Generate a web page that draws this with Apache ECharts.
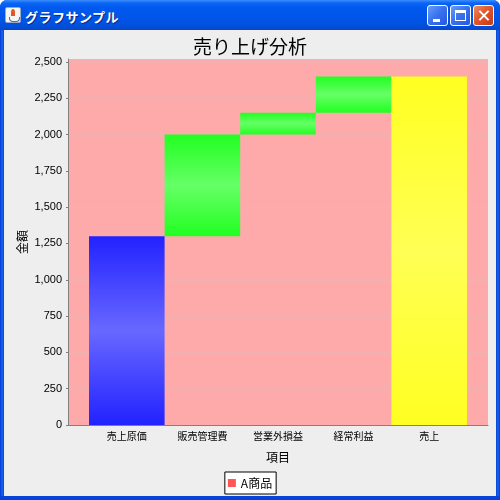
<!DOCTYPE html>
<html>
<head>
<meta charset="utf-8">
<script src="https://cdn.jsdelivr.net/npm/echarts@6/dist/echarts.min.js"></script>
<style>
  html, body { margin: 0; padding: 0; width: 500px; height: 500px; overflow: hidden; }
  #win { position: absolute; left: 0; top: 0; width: 500px; height: 500px;
    background: linear-gradient(to right, #0831d9 0, #166aee 2px, #0842d6 4px, #0842d6 496px, #166aee 498px, #0831d9 500px);
    border-radius: 7px 7px 0 0; }
  #titlebar { position: absolute; left: 0; top: 0; width: 500px; height: 30px; border-radius: 7px 7px 0 0;
    background: linear-gradient(to bottom, #3d8dfd 0, #0a66f5 3px, #0058ee 8px, #0055e8 18px, #0050dc 26px, #0a46c8 30px); }
  #client { position: absolute; left: 4px; top: 30px; width: 492px; height: 466px; background: #eeeeee; }
  #bottom { position: absolute; left: 0; top: 496px; width: 500px; height: 4px; background: #0842d6; }
  .icon { position: absolute; left: 5px; top: 7px; width: 16px; height: 16px; background: #f4f4f0;
    border: 1px solid #9aa8c8; box-sizing: border-box; border-radius: 2px; }
  .icon:before { content: ''; position: absolute; left: 5px; top: 1px; width: 4px; height: 7px; background: #e2542a; border-radius: 50% 50% 0 0; }
  .icon:after { content: ''; position: absolute; left: 3px; top: 9px; width: 9px; height: 4px; border: 1px solid #5a6a98; border-top: none; border-radius: 0 0 4px 4px; }
  .ttl { position: absolute; left: 25px; top: 7px; color: #fff; font: bold 13px "Noto Sans CJK JP", sans-serif;
    text-shadow: 1px 1px 0 #0a2a8a; letter-spacing: 0.5px; }
  .btn { position: absolute; top: 5px; width: 21px; height: 21px; box-sizing: border-box; border: 1px solid #fff; border-radius: 3px;
    background: linear-gradient(135deg, #6d9cf6 0%, #3b74ee 45%, #2458e0 100%); }
  .btn.min { left: 427px; }
  .btn.max { left: 450px; }
  .btn.close { left: 473px; background: linear-gradient(135deg, #f08a62 0%, #e0582c 45%, #c43a14 100%); }
  .btn.min:after { content: ''; position: absolute; left: 5px; top: 13px; width: 7px; height: 3px; background: #fff; }
  .btn.max:after { content: ''; position: absolute; left: 4px; top: 4px; width: 11px; height: 11px; box-sizing: border-box;
    border: 1px solid #fff; border-top-width: 3px; }
  .btn.close:before, .btn.close:after { content: ''; position: absolute; left: 9px; top: 3px; width: 2px; height: 13px; background: #fff; }
  .btn.close:before { transform: rotate(45deg); }
  .btn.close:after { transform: rotate(-45deg); }
  #chart { position: absolute; left: 0; top: 0; width: 500px; height: 500px; }
</style>
</head>
<body>
<div id="win">
  <div id="titlebar">
    <span class="icon"></span><span class="ttl">グラフサンプル</span>
    <div class="btn min"></div><div class="btn max"></div><div class="btn close"></div>
  </div>
  <div id="client"></div>
  <div id="bottom"></div>
</div>
<div id="chart"></div>
<script>
var categories = ['売上原価', '販売管理費', '営業外損益', '経常利益', '売上'];
var amounts = [1300, 700, 150, 250, 2400];
var barKinds = ['first', 'up', 'up', 'up', 'last'];
var yMin = 0;
var yMax = 2520;
var yInterval = 250;

// waterfall: each middle step starts where the previous ended, the total starts at zero
var bases = [];
var running = 0;
amounts.forEach(function(v, i) {
  if (barKinds[i] === 'last') {
    bases.push(0);
  } else {
    bases.push(running);
    running += v;
  }
});

var palette = {
  first: ['#2222ff', '#6868ff'],
  up: ['#22ff22', '#66ff66'],
  last: ['#ffff22', '#ffff55']
};

function grad(kind) {
  var c = palette[kind];
  return new echarts.graphic.LinearGradient(0, 0, 0, 1, [
    { offset: 0, color: c[0] },
    { offset: 0.5, color: c[1] },
    { offset: 1, color: c[0] }
  ]);
}

var font = '"Noto Sans CJK JP", sans-serif';
var chart = echarts.init(document.getElementById('chart'));
chart.setOption({
  animation: false,
  backgroundColor: 'transparent',
  title: {
    text: '売り上げ分析',
    left: 'center',
    top: 32,
    textStyle: { fontFamily: font, fontSize: 19, fontWeight: 'normal', color: '#000' }
  },
  legend: {
    data: ['A商品'],
    left: 'center',
    top: 472,
    icon: 'rect',
    itemWidth: 8,
    itemHeight: 8,
    padding: [5, 4, 5, 3],
    backgroundColor: '#fff',
    borderColor: '#000',
    borderWidth: 1,
    borderRadius: 0,
    textStyle: { fontFamily: font, fontSize: 12, color: '#000' }
  },
  grid: [
    { left: 68, right: 12, top: 59, bottom: 75, show: true, backgroundColor: '#ffaaaa', borderWidth: 0 },
    { left: 89, right: 33, top: 59, bottom: 75 }
  ],
  xAxis: [
    {
      type: 'category', gridIndex: 0, data: categories,
      axisLine: { lineStyle: { color: '#808080', width: 1 } },
      axisTick: { show: false }, axisLabel: { show: false }, splitLine: { show: false }
    },
    {
      type: 'category', gridIndex: 1, data: categories,
      name: '項目', nameLocation: 'middle', nameGap: 26, nameMoveOverlap: false,
      nameTextStyle: { fontFamily: font, fontSize: 12, color: '#000' },
      axisLine: { show: false }, axisTick: { show: false },
      axisLabel: { fontFamily: font, fontSize: 10, color: '#000', margin: 6, interval: 0 }
    }
  ],
  yAxis: [
    {
      type: 'value', gridIndex: 0, min: yMin, max: yMax, interval: yInterval,
      name: '金額', nameLocation: 'middle', nameGap: 40, nameRotate: 90, nameMoveOverlap: false,
      nameTextStyle: { fontFamily: font, fontSize: 12, color: '#000' },
      axisLine: { show: true, lineStyle: { color: '#808080', width: 1 } },
      axisTick: { show: true, length: 2, lineStyle: { color: '#808080' } },
      axisLabel: {
        fontFamily: '"Liberation Sans", sans-serif', fontSize: 11, color: '#000', margin: 6,
        showMaxLabel: false,
        formatter: function(v) { return v % yInterval === 0 ? v.toLocaleString('en-US') : ''; }
      },
      splitLine: { show: true, lineStyle: { color: '#c8c8c8', width: 0.5, type: [2, 2] } }
    },
    {
      type: 'value', gridIndex: 1, min: yMin, max: yMax, interval: yInterval, show: false,
      splitLine: { show: false }
    }
  ],
  series: [
    {
      name: 'base', type: 'bar', stack: 'w', xAxisIndex: 1, yAxisIndex: 1,
      barCategoryGap: 0, silent: true,
      itemStyle: { color: 'transparent' },
      data: bases
    },
    {
      name: 'A商品', type: 'bar', stack: 'w', xAxisIndex: 1, yAxisIndex: 1,
      barCategoryGap: 0,
      itemStyle: { color: '#ff5555' },
      data: amounts.map(function(v, i) {
        return { value: v, itemStyle: { color: grad(barKinds[i]) } };
      })
    }
  ]
});
</script>
</body>
</html>
